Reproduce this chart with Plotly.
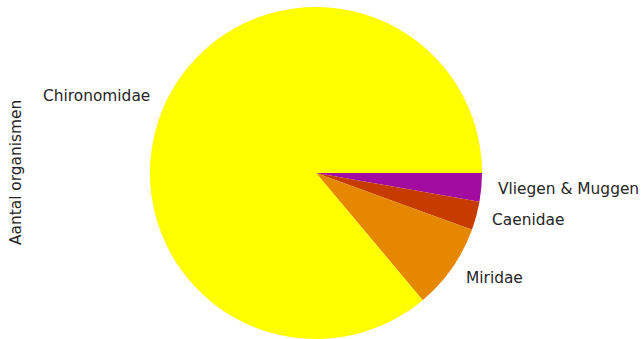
import math
import plotly.graph_objects as go

labels = ["Chironomidae", "Miridae", "Caenidae", "Vliegen & Muggen"]
counts = [93, 9, 3, 3]
colors = ["#ffff00", "#e68700", "#c63c00", "#a30ca0"]
ylabel = "Aantal organismen"

W, H = 642, 339
cx, cy, r = 316, 173, 166  # pie centre/radius in pixels (from top-left)

# matplotlib-style: first slice starts at 3 o'clock going counterclockwise.
# Equivalent in plotly: clockwise from 3 o'clock with reversed order.
fig = go.Figure(go.Pie(
    labels=labels[::-1],
    values=counts[::-1],
    marker=dict(colors=colors[::-1], line=dict(width=0)),
    sort=False,
    direction="clockwise",
    rotation=90,
    textinfo="none",
    hoverinfo="label+value",
    showlegend=False,
    domain=dict(x=[(cx - r) / W, (cx + r) / W], y=[(H - (cy + r)) / H, (H - (cy - r)) / H]),
))

font = dict(family="DejaVu Sans", size=15.4, color="#262626")
total = sum(counts)
start = 0.0
annotations = []
for lab, v in zip(labels, counts):
    span = 360.0 * v / total
    mid = math.radians(start + span / 2)
    start += span
    right = math.cos(mid) >= 0
    px = cx + 1.1 * r * math.cos(mid) + (-2 if right else 1)
    py = cy - 1.1 * r * math.sin(mid)
    annotations.append(dict(
        text=lab, x=px / W, y=1 - py / H, xref="paper", yref="paper",
        xanchor="left" if right else "right", yanchor="middle",
        showarrow=False, font=font,
    ))

annotations.append(dict(
    text=ylabel, x=16 / W, y=1 - cy / H, xref="paper", yref="paper",
    xanchor="center", yanchor="middle", textangle=-90, showarrow=False, font=font,
))

fig.update_layout(
    width=W, height=H,
    margin=dict(l=0, r=0, t=0, b=0),
    paper_bgcolor="white", plot_bgcolor="white",
    annotations=annotations,
)

fig.write_html("out.html", config={"displayModeBar": False},
               post_script="document.body.style.margin='0';")
